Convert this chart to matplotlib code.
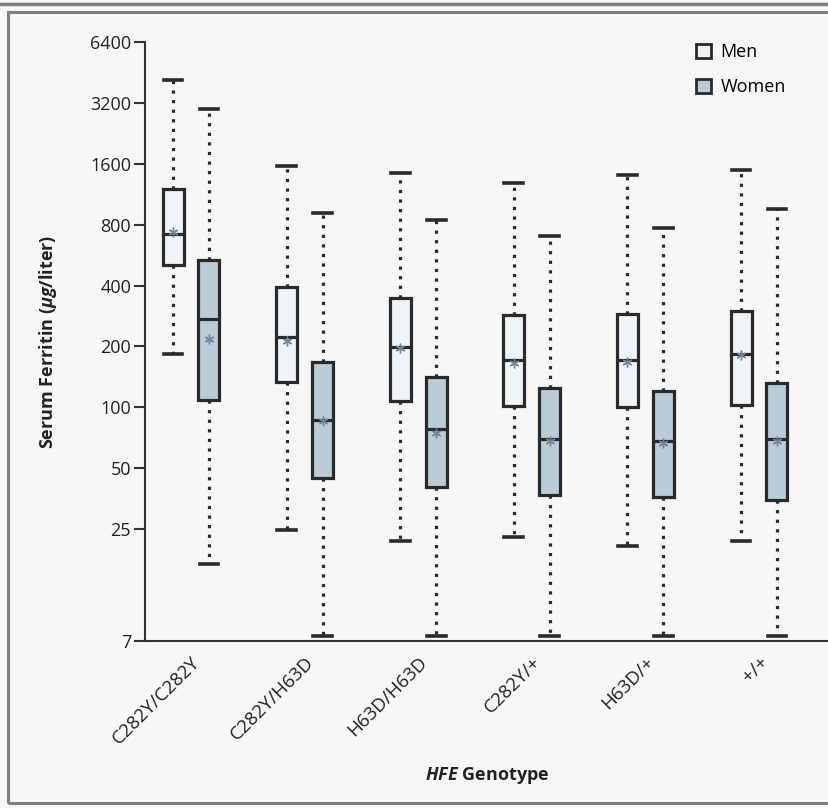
import matplotlib
matplotlib.use("Agg")
import matplotlib.pyplot as plt
from matplotlib.patches import Patch, Rectangle
from matplotlib.lines import Line2D

genotypes = ["C282Y/C282Y", "C282Y/H63D", "H63D/H63D", "C282Y/+", "H63D/+", "+/+"]

# men: whisker low, q1, median, q3, whisker high, mean
men_lo = [183, 24.8, 21.8, 22.8, 20.6, 21.8]
men_q1 = [508, 133, 108, 102, 100, 103]
men_med = [722, 222, 198, 171, 172, 183]
men_q3 = [1203, 395, 349, 285, 291, 301]
men_hi = [4150, 1564, 1446, 1290, 1413, 1493]
men_mean = [740, 212, 196, 165, 168, 181]

women_lo = [16.8, 7.4, 7.4, 7.4, 7.4, 7.4]
women_q1 = [109, 44.6, 40.3, 36.8, 36, 34.7]
women_med = [275, 87, 78, 70, 68, 70]
women_q3 = [534, 167, 141, 124, 121, 132]
women_hi = [2990, 917, 847, 706, 772, 960]
women_mean = [219, 86, 74.5, 68, 67, 68]

yticks = [7, 25, 50, 100, 200, 400, 800, 1600, 3200, 6400]

BG = "#f7f7f7"
EDGE = "#2a2a2a"
MEN_FC = "#eef4f8"
WOMEN_FC = "#b9ccd8"

plt.rcParams["font.family"] = ["Open Sans", "DejaVu Sans"]
plt.rcParams["mathtext.fontset"] = "custom"
plt.rcParams["mathtext.bfit"] = "Open Sans:italic:bold"
plt.rcParams["mathtext.rm"] = "Open Sans"


def make_stats(lo, q1, med, q3, hi, mean):
    out = []
    for i in range(len(lo)):
        out.append({"whislo": lo[i], "q1": q1[i], "med": med[i], "q3": q3[i],
                    "whishi": hi[i], "mean": mean[i], "fliers": []})
    return out


fig = plt.figure(figsize=(8.29, 8.08), dpi=100, facecolor=BG)
ax = fig.add_axes([145 / 829, 167 / 808, 684 / 829, 599 / 808], facecolor=BG)

xs = list(range(len(genotypes)))
off = 0.158
bw = 0.185

for stats, fc, sign in [(make_stats(men_lo, men_q1, men_med, men_q3, men_hi, men_mean), MEN_FC, -1),
                        (make_stats(women_lo, women_q1, women_med, women_q3, women_hi, women_mean), WOMEN_FC, 1)]:
    ax.bxp(stats, positions=[x + sign * off for x in xs], widths=bw,
           capwidths=0.165, showmeans=True, patch_artist=True, showfliers=False,
           boxprops=dict(facecolor=fc, edgecolor=EDGE, linewidth=2.3),
           medianprops=dict(color=EDGE, linewidth=2.3),
           whiskerprops=dict(color=EDGE, linewidth=2.3, linestyle=(0, (1, 2.0))),
           capprops=dict(color=EDGE, linewidth=2.6),
           meanprops=dict(marker=(6, 2, 0), markersize=7, markeredgecolor="#72839a",
                          markerfacecolor="none", markeredgewidth=1.0))

ax.set_yscale("log", base=2)
ax.set_ylim(7, 6400)
ax.set_xlim(-0.405, 5.616)
ax.set_yticks(yticks)
ax.set_yticklabels([str(t) for t in yticks])
ax.yaxis.set_minor_locator(matplotlib.ticker.NullLocator())
ax.set_xticks(xs)
ax.set_xticklabels(genotypes, rotation=45, ha="right", rotation_mode="anchor")

ax.spines["top"].set_visible(False)
ax.spines["right"].set_visible(False)
for s in ["left", "bottom"]:
    ax.spines[s].set_linewidth(1.5)
    ax.spines[s].set_color("#333333")
ax.tick_params(axis="y", length=8, width=1.5, color="#333333", labelsize=13,
               labelcolor="#222222", pad=2)
ax.tick_params(axis="x", length=0, pad=9, labelsize=13.5, labelcolor="#222222")

ax.set_ylabel(r"Serum Ferritin ($\mathbfit{μg}$/liter)", fontsize=13, fontweight="bold",
              color="#222222", labelpad=22)
ax.set_xlabel(r"$\mathbfit{HFE}$ Genotype", fontsize=13, fontweight="bold",
              color="#222222", labelpad=12)

handles = [Patch(facecolor=MEN_FC, edgecolor=EDGE, linewidth=2),
           Patch(facecolor=WOMEN_FC, edgecolor=EDGE, linewidth=2)]
ax.legend(handles, ["Men", "Women"], loc="upper left", frameon=False,
          handlelength=0.85, handleheight=0.85, handletextpad=0.5, labelspacing=0.95,
          fontsize=13, bbox_to_anchor=(0.782, 1.025))

# panel frame
fig.patches.append(Rectangle((8 / 829, 5 / 808), 2, 791 / 808, transform=fig.transFigure,
                             facecolor="none", edgecolor="#808080", linewidth=2.2))
fig.lines.append(Line2D([0, 1], [1 - 4 / 808, 1 - 4 / 808], transform=fig.transFigure,
                        color="#808080", linewidth=2.5))

fig.savefig("out.png", dpi=100, facecolor=BG)
